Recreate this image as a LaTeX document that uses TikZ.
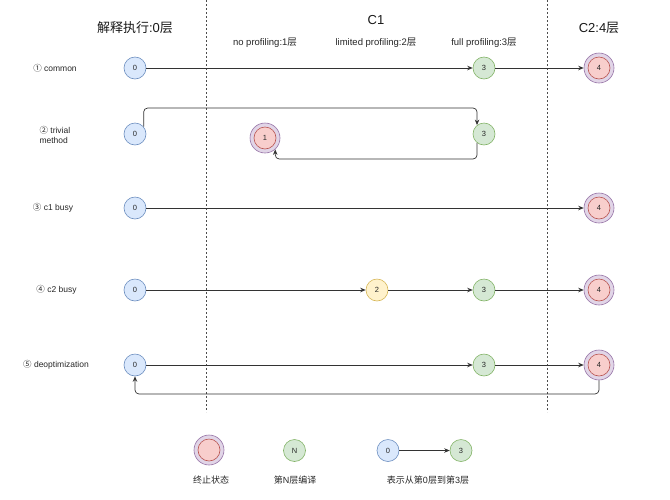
\documentclass[tikz,border=0pt]{standalone}
\usepackage{fontspec}
\setmainfont{Liberation Sans}
\newfontfamily\cjk{Noto Sans CJK SC}
\newcommand{\zh}[1]{{\cjk #1}}
\usetikzlibrary{arrows.meta}
\definecolor{bluef}{HTML}{DAE8FC}\definecolor{blued}{HTML}{6C8EBF}
\definecolor{greenf}{HTML}{D5E8D4}\definecolor{greend}{HTML}{82B366}
\definecolor{yellowf}{HTML}{FFF2CC}\definecolor{yellowd}{HTML}{D6B656}
\definecolor{redf}{HTML}{F8CECC}\definecolor{redd}{HTML}{B85450}
\definecolor{purf}{HTML}{E1D5E7}\definecolor{purd}{HTML}{9673A6}
\definecolor{linec}{HTML}{333333}
\begin{document}
\begin{tikzpicture}[x=1pt,y=-1pt,
  st/.style={circle, draw, line width=0.6pt, minimum size=22pt, inner sep=0pt, text=black!85, font=\fontsize{7.5}{8}\selectfont},
  s0/.style={st, fill=bluef, draw=blued},
  s2/.style={st, fill=yellowf, draw=yellowd},
  s3/.style={st, fill=greenf, draw=greend},
  term/.style={circle, draw=purd, fill=purf, line width=0.6pt, minimum size=30pt, inner sep=0pt, text=black!85,
    font=\fontsize{7.5}{8}\selectfont,
    path picture={\draw[draw=redd, fill=redf, line width=0.6pt] (path picture bounding box.center) circle (11pt);}},
  arr/.style={-{Stealth[length=5.5pt,width=4.5pt]}, line width=0.7pt, draw=linec},
  dashline/.style={draw=black!70, line width=0.6pt, dash pattern=on 2pt off 2pt},
  title/.style={font=\fontsize{13}{15}\selectfont, text=black!90},
  sub/.style={font=\fontsize{9.5}{11}\selectfont, text=black!85},
  lbl/.style={font=\fontsize{8.5}{10.5}\selectfont, text=black!85},
  leg/.style={font=\fontsize{9}{11}\selectfont, text=black!85}
]
\useasboundingbox (0,0) rectangle (670,499);

% dashed separators
\coordinate (v1t) at (206,0); \coordinate (v1b) at (206,412);
\coordinate (v2t) at (547.5,0); \coordinate (v2b) at (547.5,412);
\draw[dashline] (v1t) -- (v1b);
\draw[dashline] (v2t) -- (v2b);

% titles
\node[title] (h0) at (135,28) {\zh{解释执行}:0\zh{层}};
\node[title] (h1) at (376,20) {C1};
\node[title] (h2) at (599,28) {C2:4\zh{层}};
\node[sub] (s1) at (265,43) {no profiling:1\zh{层}};
\node[sub] (s2) at (376,43) {limited profiling:2\zh{层}};
\node[sub] (s3) at (484,43) {full profiling:3\zh{层}};

% row labels
\node[lbl] (l1) at (55,68) {\zh{①} common};
\node[lbl, anchor=west, align=left] (l2) at (36,135) {\zh{②} trivial\\method};
\node[lbl] (l3) at (53,208) {\zh{③} c1 busy};
\node[lbl] (l4) at (56.5,290) {\zh{④} c2 busy};
\node[lbl] (l5) at (56,365) {\zh{⑤} deoptimization};

% row 1
\node[s0] (a0) at (135,68) {0};
\node[s3] (a3) at (484,68) {3};
\node[term] (a4) at (599,68) {4};
\draw[arr] (a0) -- (a3);
\draw[arr] (a3) -- (a4);

% row 2
\node[s0] (b0) at (135,134) {0};
\node[term] (b1) at (265,138) {1};
\node[s3] (b3) at (484,134) {3};
\coordinate (r2top) at (0,108);
\coordinate (r2bot) at (0,159);
\draw[arr, rounded corners=4pt] (b0.40) -- (b0.40 |- r2top) -- (b3.128 |- r2top) -- (b3.128);
\draw[arr, rounded corners=4pt] (b3.232) -- (b3.232 |- r2bot) -- (b1.-48 |- r2bot) -- (b1.-48);

% row 3
\node[s0] (c0) at (135,208) {0};
\node[term] (c4) at (599,208) {4};
\draw[arr] (c0) -- (c4);

% row 4
\node[s0] (d0) at (135,290) {0};
\node[s2] (d2) at (377,290) {2};
\node[s3] (d3) at (484,290) {3};
\node[term] (d4) at (599,290) {4};
\draw[arr] (d0) -- (d2);
\draw[arr] (d2) -- (d3);
\draw[arr] (d3) -- (d4);

% row 5
\node[s0] (e0) at (135,365) {0};
\node[s3] (e3) at (484,365) {3};
\node[term] (e4) at (599,365) {4};
\draw[arr] (e0) -- (e3);
\draw[arr] (e3) -- (e4);
\coordinate (r5bot) at (0,394);
\draw[arr, rounded corners=4pt] (e4.south) -- (e4.south |- r5bot) -- (e0.south |- r5bot) -- (e0.south);

% legend
\node[term] (g1) at (209,450) {};
\node[s3] (g2) at (294.5,450.5) {N};
\node[s0] (g3) at (388,450.5) {0};
\node[s3] (g4) at (461,450.5) {3};
\draw[arr] (g3) -- (g4);
\node[leg] (t1) at (211,480) {\zh{终止状态}};
\node[leg] (t2) at (295,480) {\zh{第}N\zh{层编译}};
\node[leg] (t3) at (428,480) {\zh{表示从第}0\zh{层到第}3\zh{层}};
\end{tikzpicture}
\end{document}
